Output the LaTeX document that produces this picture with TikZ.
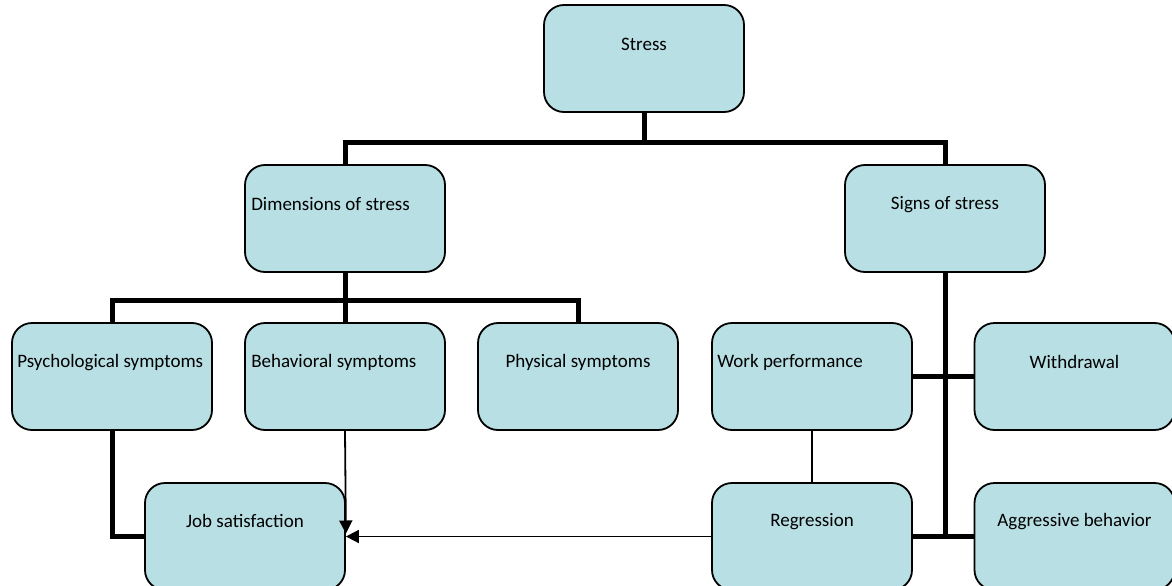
\documentclass[tikz,border=0pt]{standalone}
\usepackage{fontspec}
\setmainfont{Carlito}
\usetikzlibrary{arrows.meta, positioning, calc}
\definecolor{boxfill}{RGB}{184,223,227}

\begin{document}
\begin{tikzpicture}[
    x=1pt, y=-1pt,
    every node/.style={font=\fontsize{19}{22}\selectfont},
    box/.style={rectangle, draw, line width=1.8pt, fill=boxfill, minimum width=200pt, minimum height=107pt, rounded corners=20pt},
    txt/.style={inner sep=0pt, anchor=center},
    ltxt/.style={inner sep=0pt, anchor=west},
    trunk/.style={line width=5pt},
    link/.style={line width=1.8pt},
    arrow/.style={-{Triangle[length=13pt, width=13pt]}, line width=1.8pt}
]
\useasboundingbox (0,0) rectangle (1172,586);

% Root
\node[box] (stress) at (644, 58.5) {};
\node[txt] (stresstxt) at ($(stress.north)+(0,40)$) {Stress};

% Level 1
\node[box] (dims) at (345, 218.5) {};
\node[ltxt] (dimstxt) at ($(dims.north west)+(7,40)$) {Dimensions of stress};
\node[box] (signs) at (945, 218.5) {};
\node[txt] (signstxt) at ($(signs.north)+(0,40)$) {Signs of stress};

% Symptoms
\node[box] (psych) at (112, 376.5) {};
\node[ltxt] (psychtxt) at ($(psych.north west)+(6,40)$) {Psychological symptoms};
\node[box] (behav) at (345, 376.5) {};
\node[ltxt] (behavtxt) at ($(behav.north west)+(7,40)$) {Behavioral symptoms};
\node[box] (phys) at (578, 376.5) {};
\node[txt] (phystxt) at ($(phys.north)+(0,40)$) {Physical symptoms};

% Signs
\node[box] (work) at (812, 376.5) {};
\node[ltxt] (worktxt) at ($(work.north west)+(6,40)$) {Work performance};
\node[box] (withd) at (1074.5, 376.5) {};
\node[txt] (withdtxt) at ($(withd.north)+(0,40)$) {Withdrawal};

% Bottom row
\node[box] (job) at (245, 536.5) {};
\node[txt] (jobtxt) at ($(job.north)+(0,39)$) {Job satisfaction};
\node[box] (regr) at (812, 536.5) {};
\node[txt] (regrtxt) at ($(regr.north)+(0,39)$) {Regression};
\node[box] (aggr) at (1074.5, 536.5) {};
\node[txt] (aggrtxt) at ($(aggr.north)+(0,39)$) {Aggressive behavior};

% Bus lines
\coordinate (topbus) at (644, 142);
\coordinate (dimbus) at (345, 300);
\coordinate (signend) at (945, 537);

\draw[trunk] (stress.south) -- (topbus);
\draw[trunk] (dims.north) |- (topbus) -| (signs.north);
\draw[trunk] (dims.south) -- (dimbus);
\draw[trunk] (psych.north) |- (dimbus) -| (phys.north);
\draw[trunk] (dimbus) -- (behav.north);
\draw[trunk] (signs.south) -- (signend);
\draw[trunk] (work.east) -- (withd.west);
\draw[trunk] (regr.east) -- (aggr.west);
\draw[trunk] (psych.south) |- (job.west);

% Thin links
\draw[link] (work.south) -- (regr.north);
\draw[arrow] (behav.south) -- ($(job.east)+(0,-3)$);
\draw[arrow] (regr.west) -- (job.east);

\end{tikzpicture}
\end{document}
